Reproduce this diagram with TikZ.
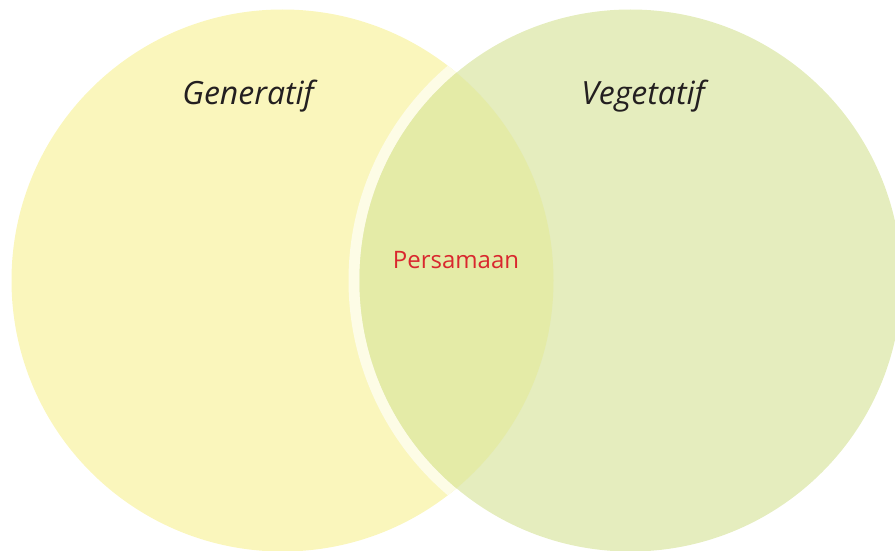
\documentclass[tikz,border=0pt]{standalone}
\usepackage{fontspec}
\setmainfont{Open Sans}
\definecolor{genyellow}{HTML}{FAF6BC}
\definecolor{veggreen}{HTML}{E5EDBE}
\definecolor{overlapgreen}{HTML}{E4EBA7}
\definecolor{ringcol}{HTML}{FDFCE6}
\definecolor{labeldark}{HTML}{231F20}
\definecolor{labelred}{HTML}{D9272E}
\begin{document}
\begin{tikzpicture}[x=1pt,y=-1pt,
  setlabel/.style={font=\fontsize{32}{37}\selectfont\itshape, text=labeldark, inner sep=0pt},
  commonlabel/.style={font=\fontsize{24}{29}\selectfont, text=labelred, inner sep=0pt}]
\useasboundingbox (0,0) rectangle (895,551);
\coordinate (cl) at (282.5,280.5);
\coordinate (cr) at (630.5,280.5);
% left set
\fill[genyellow] (cl) circle[radius=271];
% light ring around the right set, visible over the left set only
\begin{scope}
  \clip (cl) circle[radius=271];
  \fill[ringcol] (cr) circle[radius=282];
\end{scope}
% right set
\fill[veggreen] (cr) circle[radius=271];
% overlap
\begin{scope}
  \clip (cl) circle[radius=271];
  \fill[overlapgreen] (cr) circle[radius=271];
\end{scope}
\node[setlabel] (gen) at (248,96) {Generatif};
\node[setlabel] (veg) at (643,96) {Vegetatif};
\node[commonlabel] (sam) at (456,260) {Persamaan};
\end{tikzpicture}
\end{document}
